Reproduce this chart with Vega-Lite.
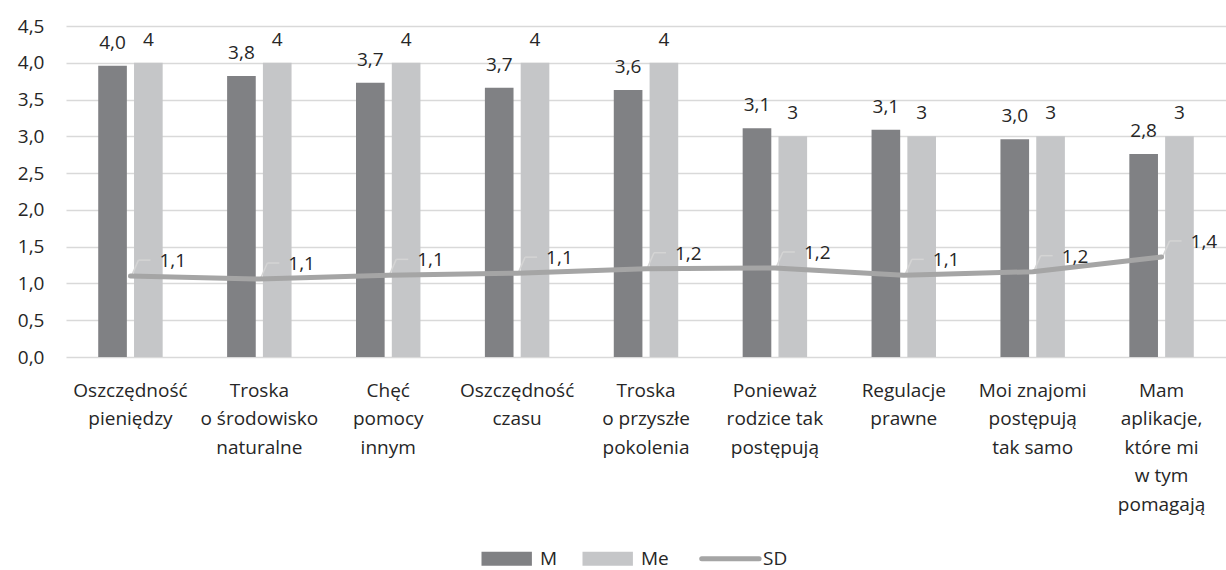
{
  "$schema": "https://vega.github.io/schema/vega-lite/v6.json",
  "autosize": {"type": "none"},
  "padding": {"left": 66, "top": 26, "right": 0, "bottom": 213},
  "width": 1160,
  "height": 331,
  "background": "white",
  "config": {
    "locale": {"number": {"decimal": ",", "thousands": " ", "grouping": [3], "currency": ["", " zł"]}},
    "font": "Open Sans",
    "view": {"stroke": null},
    "axis": {"labelFont": "Open Sans", "labelFontSize": 19, "labelColor": "#262626"},
    "axisY": {"domain": false, "ticks": false, "gridColor": "#d9d9d9", "gridWidth": 1.5, "labelPadding": 22, "labelOverlap": false, "title": null}
  },
  "data": {
    "values": [
      {"cat": "Oszczędność|pieniędzy", "M": 3.96, "Me": 4, "SD": 1.10},
      {"cat": "Troska|o środowisko|naturalne", "M": 3.82, "Me": 4, "SD": 1.06},
      {"cat": "Chęć|pomocy|innym", "M": 3.73, "Me": 4, "SD": 1.11},
      {"cat": "Oszczędność|czasu", "M": 3.66, "Me": 4, "SD": 1.14},
      {"cat": "Troska|o przyszłe|pokolenia", "M": 3.63, "Me": 4, "SD": 1.20},
      {"cat": "Ponieważ|rodzice tak|postępują", "M": 3.11, "Me": 3, "SD": 1.21},
      {"cat": "Regulacje|prawne", "M": 3.09, "Me": 3, "SD": 1.11},
      {"cat": "Moi znajomi|postępują|tak samo", "M": 2.96, "Me": 3, "SD": 1.16},
      {"cat": "Mam|aplikacje,|które mi|w tym|pomagają", "M": 2.76, "Me": 3, "SD": 1.36}
    ]
  },
  "encoding": {
    "x": {
      "field": "cat", "type": "nominal", "sort": null,
      "scale": {"paddingInner": 0.5, "paddingOuter": 0.25},
      "axis": {"title": null, "labelAngle": 0, "domain": false, "ticks": false, "labelPadding": 24, "labelBaseline": "top", "labelLineHeight": 28.5, "labelOverlap": false, "labelExpr": "split(datum.value, '|')"}
    }
  },
  "layer": [
    {
      "transform": [{"fold": ["M", "Me"], "as": ["key", "val"]}],
      "mark": {"type": "bar"},
      "encoding": {
        "xOffset": {"field": "key", "type": "nominal", "scale": {"domain": ["M", "Me"], "paddingInner": 0.2, "paddingOuter": 0}},
        "y": {
          "field": "val", "type": "quantitative",
          "scale": {"domain": [0, 4.5], "nice": false},
          "axis": {"values": [0, 0.5, 1, 1.5, 2, 2.5, 3, 3.5, 4, 4.5], "format": ".1f"}
        },
        "color": {
          "field": "key", "type": "nominal",
          "scale": {"domain": ["M", "Me", "SD"], "range": ["#808184", "#c5c6c8", "#a5a5a5"]},
          "legend": {
            "orient": "none", "legendX": 413, "legendY": 523, "title": null, "direction": "horizontal",
            "symbolSize": 196, "labelFontSize": 19, "labelColor": "#262626", "labelOffset": 42, "columnPadding": 22,
            "encode": {
              "symbols": {
                "update": {
                  "shape": {"signal": "datum.value === 'SD' ? 'M-1.4,0H6.8' : 'M-1,-1H6.2V1H-1Z'"},
                  "fill": {"signal": "datum.value === 'SD' ? 'transparent' : scale('color', datum.value)"},
                  "stroke": {"signal": "datum.value === 'SD' ? scale('color', datum.value) : 'transparent'"},
                  "strokeWidth": {"signal": "datum.value === 'SD' ? 5 : 0"},
                  "strokeCap": {"value": "round"},
                  "opacity": {"value": 1}
                }
              }
            }
          }
        }
      }
    },
    {
      "mark": {"type": "text", "baseline": "alphabetic", "dy": -17, "fontSize": 19, "color": "#262626"},
      "encoding": {
        "xOffset": {"datum": "M"},
        "y": {"field": "M", "type": "quantitative", "axis": {"values": [0, 0.5, 1, 1.5, 2, 2.5, 3, 3.5, 4, 4.5], "format": ".1f"}},
        "text": {"field": "M", "type": "quantitative", "format": ".1f"}
      }
    },
    {
      "mark": {"type": "text", "baseline": "alphabetic", "dy": -17, "fontSize": 19, "color": "#262626"},
      "encoding": {
        "xOffset": {"datum": "Me"},
        "y": {"field": "Me", "type": "quantitative", "axis": {"values": [0, 0.5, 1, 1.5, 2, 2.5, 3, 3.5, 4, 4.5], "format": ".1f"}},
        "text": {"field": "Me", "type": "quantitative", "format": "d"}
      }
    },
    {
      "mark": {"type": "rule", "color": "#d4d4d4", "strokeWidth": 1.5, "xOffset": 1, "x2Offset": 8, "y2Offset": -16},
      "encoding": {
        "y": {"field": "SD", "type": "quantitative", "axis": {"values": [0, 0.5, 1, 1.5, 2, 2.5, 3, 3.5, 4, 4.5], "format": ".1f"}},
        "x2": {"field": "cat"},
        "y2": {"field": "SD"}
      }
    },
    {
      "mark": {"type": "rule", "color": "#d4d4d4", "strokeWidth": 1.5, "xOffset": 8, "x2Offset": 20, "yOffset": -16, "y2Offset": -16},
      "encoding": {
        "y": {"field": "SD", "type": "quantitative", "axis": {"values": [0, 0.5, 1, 1.5, 2, 2.5, 3, 3.5, 4, 4.5], "format": ".1f"}},
        "x2": {"field": "cat"},
        "y2": {"field": "SD"}
      }
    },
    {
      "mark": {"type": "line", "strokeWidth": 5, "strokeCap": "round", "strokeJoin": "round"},
      "encoding": {
        "y": {"field": "SD", "type": "quantitative", "axis": {"values": [0, 0.5, 1, 1.5, 2, 2.5, 3, 3.5, 4, 4.5], "format": ".1f"}},
        "color": {"datum": "SD"}
      }
    },
    {
      "mark": {"type": "text", "align": "left", "baseline": "alphabetic", "dx": 29, "dy": -9, "fontSize": 19, "color": "#262626"},
      "encoding": {
        "y": {"field": "SD", "type": "quantitative", "axis": {"values": [0, 0.5, 1, 1.5, 2, 2.5, 3, 3.5, 4, 4.5], "format": ".1f"}},
        "text": {"field": "SD", "type": "quantitative", "format": ".1f"}
      }
    }
  ]
}
